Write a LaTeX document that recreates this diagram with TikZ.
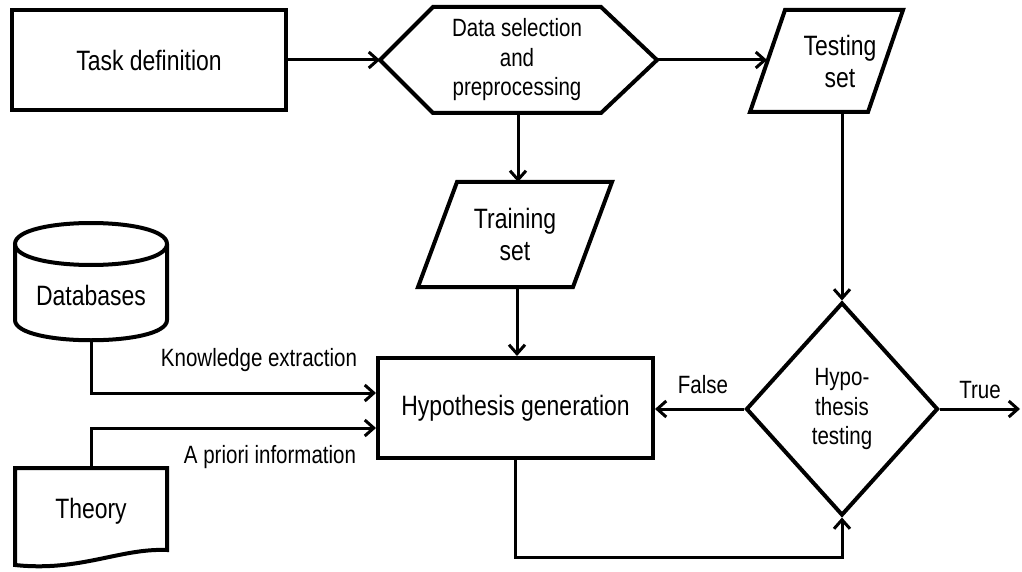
\documentclass[tikz,border=0pt]{standalone}
\usepackage{fontspec}
\setmainfont[FakeStretch=0.82]{Liberation Sans}
\usetikzlibrary{arrows.meta,shapes.geometric}
\tikzset{
  outline/.style={line width=4pt, line join=miter},
  boxnode/.style={draw, outline, rectangle, inner sep=0pt},
  link/.style={line width=3pt, -{Straight Barb[length=9pt,width=16pt]}},
  big/.style={font=\fontsize{28}{32}\selectfont, align=center},
  mid/.style={font=\fontsize{25}{29.5}\selectfont, align=center},
}
\begin{document}
\begin{tikzpicture}[x=1pt, y=-1pt]
\useasboundingbox (0,0) rectangle (1022,572);

% process boxes
\node[boxnode, big, minimum width=274pt, minimum height=100pt] (task) at (149,60) {Task definition};
\node[boxnode, big, minimum width=275pt, minimum height=100pt] (hyp) at (515.5,408) {Hypothesis generation};

% decision
\node[diamond, draw, outline, inner sep=0pt, mid, minimum width=192pt, minimum height=213pt] (ht) at (842,409) {Hypo-\\thesis\\testing};

% preparation hexagon
\draw[outline] (380,60) -- (433,7) -- (601,7) -- (657,60) -- (601,113) -- (433,113) -- cycle;
\node[mid] (sel) at (517,60) {Data selection\\and\\preprocessing};
\coordinate (sel-w) at (380,60);
\coordinate (sel-e) at (657,60);
\coordinate (sel-s) at (518,113);

% data sets
\draw[outline] (785,10) -- (903,10) -- (868,112) -- (750,112) -- cycle;
\node[big] (tst) at (840,61) {Testing\\set};
\coordinate (tst-w) at (767,60);
\coordinate (tst-s) at (842,112);

\draw[outline] (457,182) -- (612,182) -- (573,287) -- (418,287) -- cycle;
\node[big] (trn) at (515,234) {Training\\set};
\coordinate (trn-n) at (518,182);
\coordinate (trn-s) at (517,287);

% database cylinder
\draw[outline] (15,244) .. controls (15,216) and (167,216) .. (167,244)
               .. controls (167,272) and (15,272) .. (15,244) -- cycle;
\draw[outline] (15,244) -- (15,320) .. controls (15,347) and (167,347) .. (167,320) -- (167,244);
\node[big] (db) at (91,295) {Databases};
\coordinate (db-s) at (91,340);

% theory document
\draw[outline] (15,565) -- (15,468) -- (167,468) -- (167,550)
               .. controls (120,548) and (80,572) .. (15,565) -- cycle;
\node[big] (th) at (91,511) {Theory};
\coordinate (th-n) at (91,468);

% loose ends
\coordinate (out) at (1020,409);
\coordinate (loop) at (842,557);

% connectors
\draw[link] (task.east) -- (sel-w);
\draw[link] (sel-e) -- (tst-w);
\draw[link] (sel-s) -- (trn-n);
\draw[link] (trn-s) -- (trn-s |- hyp.north);
\draw[link] (tst-s) -- (ht.north);
\draw[link] (ht.west) -- (ht.west -| hyp.east);
\draw[link] (ht.east) -- (out);
\draw[link] (hyp.south) |- (loop) -- (ht.south);
\draw[link] (db-s) |- ([yshift=15pt]hyp.west);
\draw[link] (th-n) |- ([yshift=-20pt]hyp.west);

% connector labels
\node[mid] (lk) at (259,360) {Knowledge extraction};
\node[mid] (lp) at (270,457) {A priori information};
\node[mid] (lf) at (703,385) {False};
\node[mid] (lt) at (980,390) {True};
\end{tikzpicture}
\end{document}
